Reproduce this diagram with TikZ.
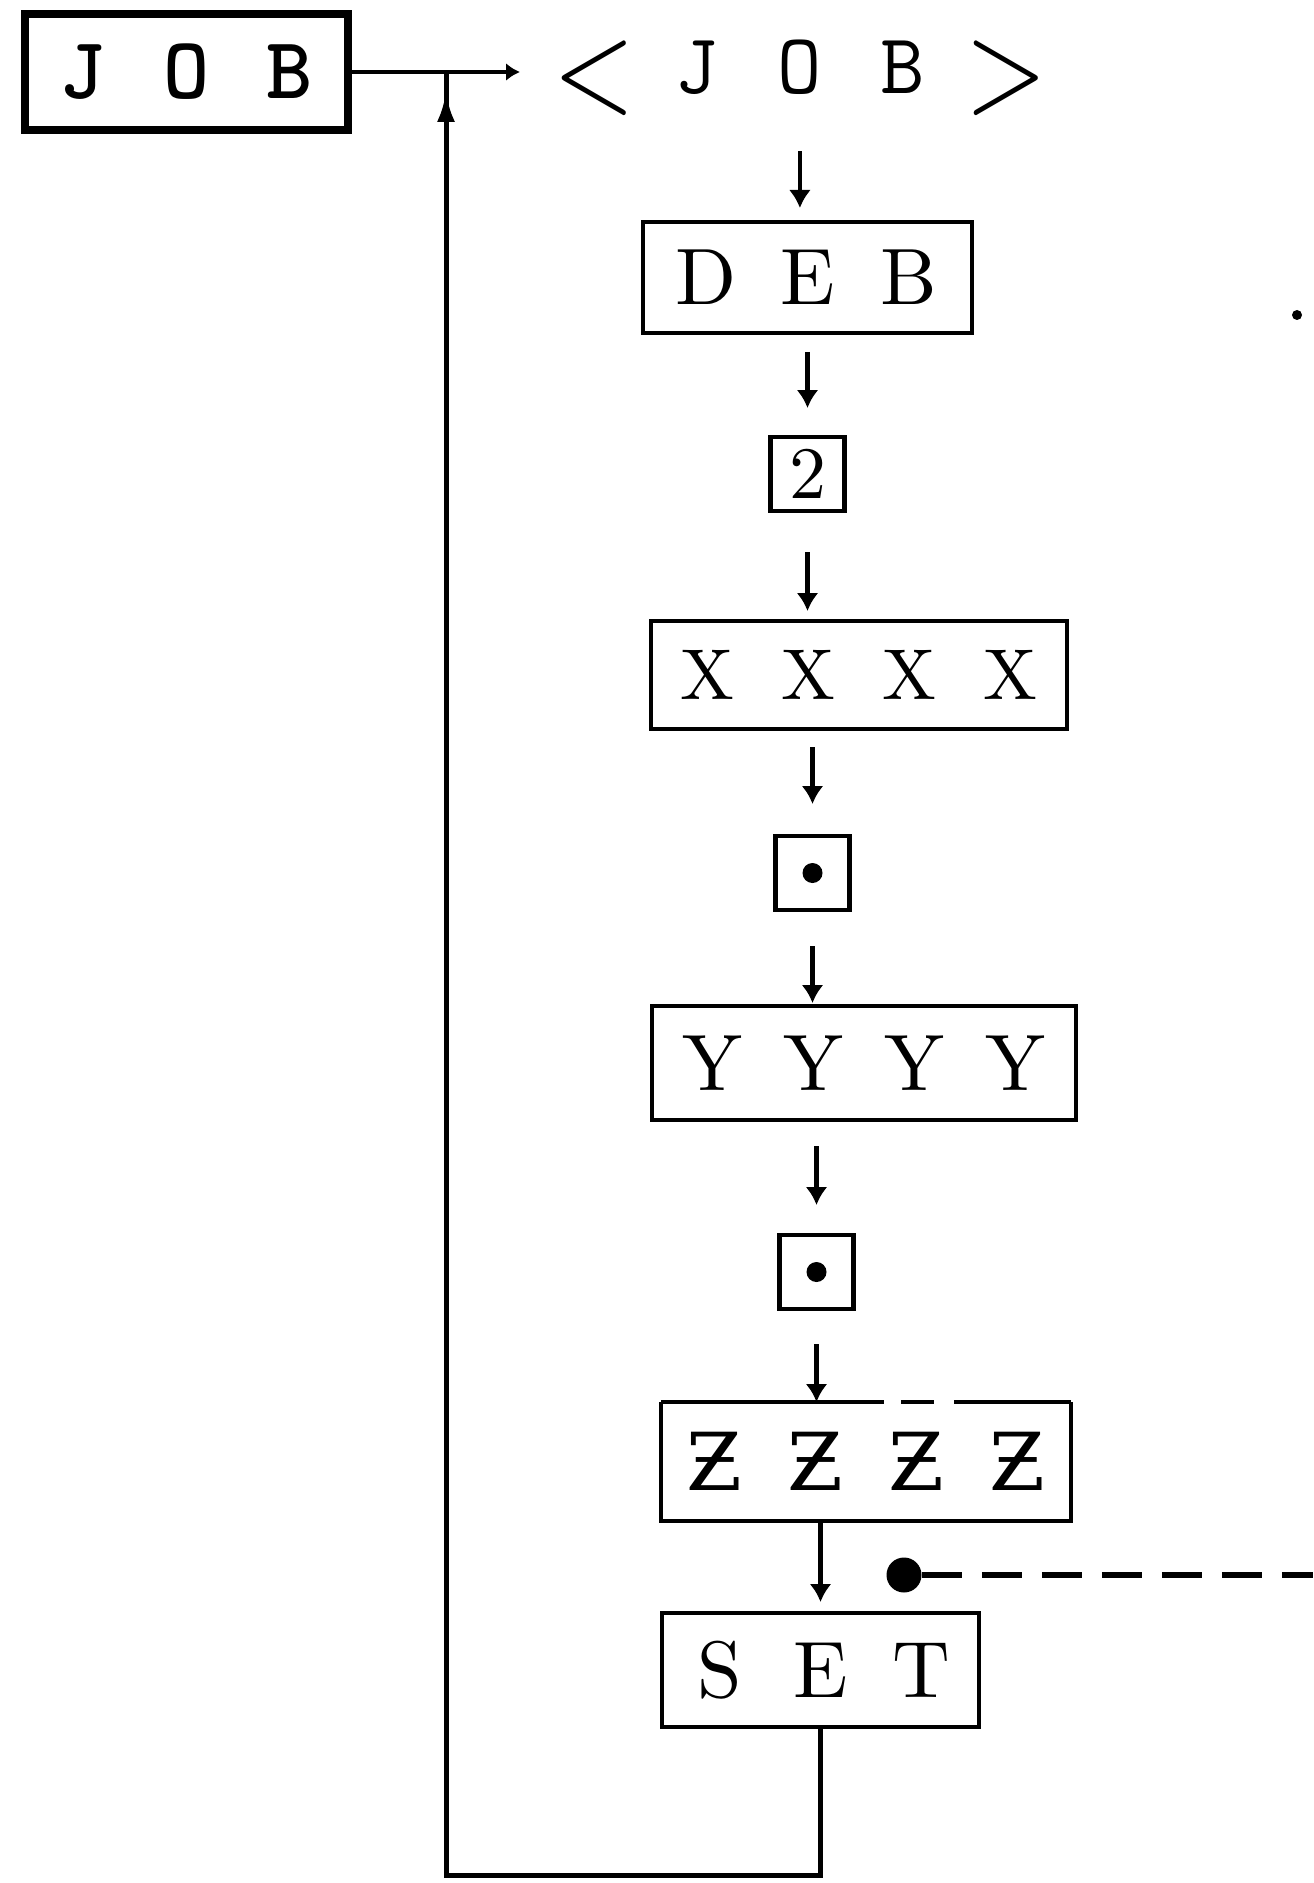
\documentclass[tikz,border=0pt]{standalone}
\usepackage{fontspec}
\setmainfont{lmroman10-regular.otf}
\newfontfamily\jobfont{lmmonolt10-bold.otf}
\newfontfamily\zfont{DejaVu Serif}
\usetikzlibrary{arrows.meta,positioning,decorations.markings}
% one letter per fixed-width cell, so the letters sit evenly spread
\newcommand\cell[2][50.5pt]{\makebox[#1]{#2}}
\newcommand\rmbig{\fontsize{40}{44}\selectfont}

\begin{document}
\begin{tikzpicture}[x=0.5pt,y=-0.5pt,>=Latex,font=\rmbig,
    box/.style={draw,line width=2.3pt,minimum height=56pt,inner sep=0pt,outer sep=0pt},
    sq/.style={draw,line width=2.3pt,minimum size=37pt,inner sep=0pt,outer sep=0pt},
    dotbox/.style={sq,path picture={\fill (path picture bounding box.center) circle (5pt);}},
    flow/.style={-{Latex[length=9pt,width=11pt]},line width=2.2pt}]
  \useasboundingbox (0,0) rectangle (1313,1883);
  \coordinate (se) at (1313,1883);

  \node[box,line width=3.6pt,minimum width=161.5pt,minimum height=58pt,font=\fontsize{44}{48}\selectfont\jobfont] (job) at (186.5,72)
    {\cell[51.75pt]{J}\cell[51.75pt]{O}\cell[51.75pt]{B}};
  \node[inner sep=0pt,font=\fontsize{43}{47}\selectfont\ttfamily,right=97pt of job,yshift=-3pt] (ljob)
    {\cell[51.5pt]{\raisebox{-8.5pt}{\scalebox{1.22}[1.5]{\rmfamily <}}}\cell[51.5pt]{J}\cell[51.5pt]{O}\cell[51.5pt]{B}\cell[51.5pt]{\raisebox{-8.5pt}{\scalebox{1.22}[1.5]{\rmfamily >}}}};
  \coordinate[right=49pt of job.east] (jn);

  % the expanded sequence
  \node[box,minimum width=164.5pt,minimum height=55.5pt] (deb) at (807.5,277.5) {\cell{D}\cell{E}\cell{B}};
  \node[sq,font=\fontsize{37}{40}\selectfont,below=52pt of deb] (two) {2};
  \node[box,minimum width=208pt,minimum height=54pt,font=\fontsize{36}{40}\selectfont,below=55pt of two,xshift=25.75pt] (xxxx)
    {\cell{X}\cell{X}\cell{X}\cell{X}};
  \node[dotbox,below=53.5pt of xxxx,xshift=-23.25pt] (dot1) {};
  \node[box,minimum width=212pt,minimum height=57pt,below=48pt of dot1,xshift=25.75pt] (yyyy)
    {\cell{Y}\cell{Y}\cell{Y}\cell{Y}};
  \node[dotbox,below=57.5pt of yyyy,xshift=-23.75pt] (dot2) {};
  \node[box,draw=none,minimum width=205pt,minimum height=59.5pt,font=\fontsize{40}{44}\selectfont\zfont,below=46.5pt of dot2,xshift=24.75pt] (zzzz)
    {\cell{Ƶ}\cell{Ƶ}\cell{Ƶ}\cell{Ƶ}};
  \node[box,minimum width=158.5pt,minimum height=57pt,below=46pt of zzzz,xshift=-22.75pt] (set)
    {\cell{S}\cell{E}\cell{T}};

  % ZZZZ frame, top edge broken
  \draw[line width=2.3pt] (zzzz.north east) -- (zzzz.south east) -- (zzzz.south west) -- (zzzz.north west);
  \draw[line width=2.3pt,dash pattern=on 111.5pt off 8.5pt on 16.5pt off 10pt on 60pt] (zzzz.north west) -- (zzzz.north east);

  \node[circle,fill,minimum size=17.5pt,inner sep=0pt] (tap) at (904,1575) {};
  \node[circle,fill,minimum size=5pt,inner sep=0pt] (speck) at (1297,315) {};

  % connectors
  \draw[line width=2.3pt,-{Latex[length=7pt,width=9pt]},shorten >=11pt] (job.east) -- (job.east -| ljob.west);
  \draw[flow,shorten <=17.5pt,shorten >=7pt] (ljob.south) -- (ljob.south |- deb.north);
  \draw[flow,shorten <=9.5pt,shorten >=14.5pt] (deb) -- (two);
  \draw[flow,shorten <=20.5pt,shorten >=5pt] (two.south) -- (two.south |- xxxx.north);
  \draw[flow,shorten <=9pt,shorten >=16pt] (dot1.north |- xxxx.south) -- (dot1.north);
  \draw[flow,shorten <=18pt,shorten >=1.5pt] (dot1.south) -- (dot1.south |- yyyy.north);
  \draw[flow,shorten <=13pt,shorten >=15pt] (dot2.north |- yyyy.south) -- (dot2.north);
  \draw[flow,shorten <=17.5pt] (dot2.south) -- (dot2.south |- zzzz.north);
  \draw[flow,shorten >=5.5pt] (set.north |- zzzz.south) -- (set.north);
  \draw[line width=2.8pt,dash pattern=on 20pt off 10pt] (tap.east) -- (tap -| se);
  \draw[line width=2.5pt,postaction={decorate},
    decoration={markings,mark=at position -10pt with {\arrow{Latex[length=15pt,width=9pt]}}}]
    (set.south) -- ++(0,148) -| (jn);
\end{tikzpicture}
\end{document}
